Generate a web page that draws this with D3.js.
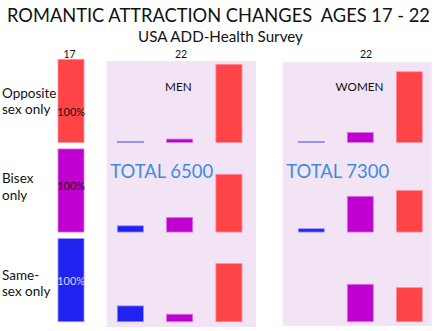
<!DOCTYPE html>
<html>
<head>
<meta charset="utf-8">
<script src="https://cdn.jsdelivr.net/npm/d3@7"></script>
<style>
  body { margin: 0; background: #fff; }
  svg { display: block; font-family: Lato, "Open Sans", sans-serif; }
  text { white-space: pre; }
</style>
</head>
<body>
<div id="chart"></div>
<script>
// rows = attraction at age 17, columns = attraction at age 22
var categories = ['opposite', 'bisex', 'same'];
var rowLabels = [['Opposite', 'sex only'], ['Bisex', 'only'], ['Same-', 'sex only']];
var columns = ['same', 'bisex', 'opposite'];   // blue, purple, red
var age17 = [100, 100, 100];

// percent at 22, one array per age-17 row, in column order same/bisex/opposite
var menOpposite = [1, 4, 94];
var menBisex = [7.5, 17.5, 69.5];
var menSame = [19, 9, 70];
var womenOpposite = [1, 12, 85];
var womenBisex = [4, 43, 50];
var womenSame = [0, 45, 41];

var menTotal = 'TOTAL 6500';
var womenTotal = 'TOTAL 7300';

var fills = { opposite: '#ff4447', bisex: '#c000d0', same: '#2222f0' };
var strokes = { opposite: '#ff8ea0', bisex: '#d27ae0', same: '#9a92f4' };

var width = 436, height = 331;

var svg = d3.select('#chart').append('svg')
  .attr('width', width).attr('height', height);

// shrink/grow font so the text spans the wanted width
function fit(sel, w) {
  var fs = +sel.attr('font-size');
  var len = sel.node().getComputedTextLength();
  sel.attr('font-size', (fs * w / len).toFixed(2));
  return sel;
}

// title
fit(svg.append('text')
  .attr('x', 7).attr('y', 21.5)
  .attr('font-size', 19.5)
  .attr('fill', '#111')
  .text('ROMANTIC ATTRACTION CHANGES  AGES 17 - 22'), 423);
fit(svg.append('text')
  .attr('x', 138).attr('y', 42.3)
  .attr('font-size', 14)
  .attr('fill', '#111')
  .text('USA ADD-Health Survey'), 165);

var rowY = d3.scaleBand().domain(categories).range([59.3, 321.7]).paddingInner(0.073);
var h = d3.scaleLinear().domain([0, 100]).range([0, rowY.bandwidth()]);

// panels
var panels = [
  { name: 'MEN', total: menTotal, rows: [menOpposite, menBisex, menSame],
    box: [106.7, 61, 256, 327], cols: [117.3, 242], labelX: 178.3, ageX: 181 },
  { name: 'WOMEN', total: womenTotal, rows: [womenOpposite, womenBisex, womenSame],
    box: [282.7, 62, 431.7, 326], cols: [298.3, 422.3], labelX: 359.5, ageX: 366 }
];

panels.forEach(function (p) {
  svg.append('rect')
    .attr('x', p.box[0]).attr('y', p.box[1])
    .attr('width', p.box[2] - p.box[0]).attr('height', p.box[3] - p.box[1])
    .attr('fill', '#f2e4f4');

  svg.append('text')
    .attr('x', p.ageX).attr('y', 57.5)
    .attr('text-anchor', 'middle').attr('font-size', 10.5)
    .attr('fill', '#111').text('22');

  svg.append('text')
    .attr('x', p.labelX).attr('y', 90.7)
    .attr('text-anchor', 'middle').attr('font-size', 11.7)
    .attr('fill', '#111').text(p.name);

  var x = d3.scaleBand().domain(columns).range(p.cols).paddingInner(0.47);

  p.rows.forEach(function (vals, ri) {
    var base = rowY(categories[ri]) + rowY.bandwidth();
    svg.selectAll(null)
      .data(vals.map(function (v, i) { return { col: columns[i], v: v }; }))
      .enter().append('rect')
      .attr('x', function (d) { return x(d.col); })
      .attr('y', function (d) { return base - h(d.v); })
      .attr('width', x.bandwidth())
      .attr('height', function (d) { return h(d.v); })
      .attr('fill', function (d) { return fills[d.col]; })
      .attr('stroke', function (d) { return strokes[d.col]; })
      .attr('stroke-width', 0.8);
  });

  fit(svg.append('text')
    .attr('x', p.box[0] + 3.5).attr('y', 178.3)
    .attr('font-size', 21)
    .attr('fill', '#3b8de0')
    .text(p.total), 103);
});

// age 17 column
svg.append('text')
  .attr('x', 69.5).attr('y', 57.5)
  .attr('text-anchor', 'middle').attr('font-size', 10.5)
  .attr('fill', '#111').text('17');

var x17 = [58, 84];
var labelOffsets = [[-3, 13, 15], [-7.5, 9.5, -0.5], [0, 16, 5]];

categories.forEach(function (c, i) {
  var top = rowY(c), base = top + rowY.bandwidth();
  svg.append('rect')
    .attr('x', x17[0]).attr('y', base - h(age17[i]))
    .attr('width', x17[1] - x17[0]).attr('height', h(age17[i]))
    .attr('fill', fills[c])
    .attr('stroke', strokes[c]).attr('stroke-width', 0.8);

  var mid = top + rowY.bandwidth() / 2;
  fit(svg.append('text')
    .attr('x', 57.3).attr('y', mid + labelOffsets[i][2])
    .attr('font-size', 10.5)
    .attr('fill', c === 'same' ? '#d8d4ff' : '#111')
    .text(age17[i] + '%'), 27.7);

  svg.append('text')
    .attr('font-size', 13.5).attr('fill', '#111')
    .selectAll('tspan').data(rowLabels[i]).enter().append('tspan')
    .attr('x', 2)
    .attr('y', function (d, j) { return mid + labelOffsets[i][j]; })
    .text(function (d) { return d; });
});
</script>
</body>
</html>
